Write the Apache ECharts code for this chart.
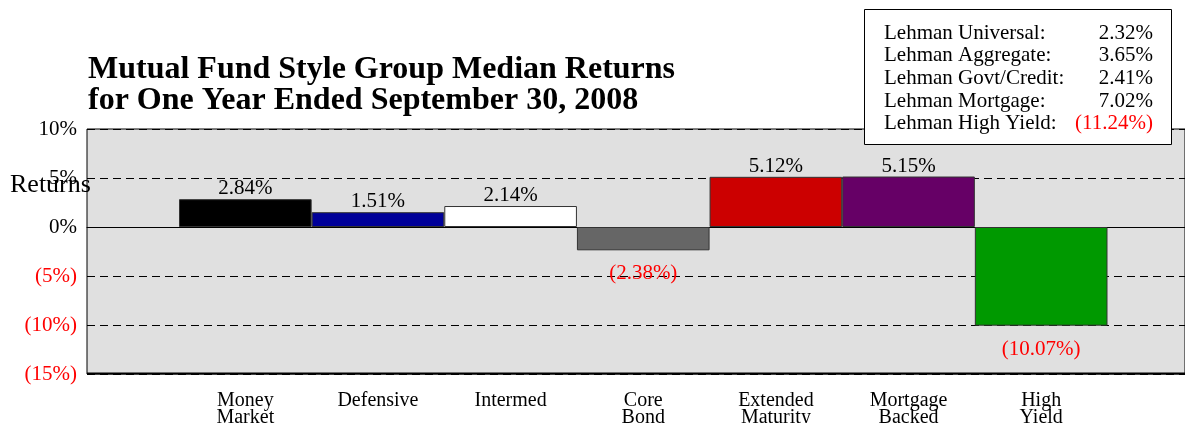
<!DOCTYPE html>
<html>
<head>
<meta charset="utf-8">
<script src="https://cdn.jsdelivr.net/npm/echarts@6/dist/echarts.min.js"></script>
<style>
html,body{margin:0;padding:0;background:#fff;}
#chart{width:1185px;height:423px;}
</style>
</head>
<body>
<div id="chart"></div>
<script>
// ---- data ----
var categories = ['Money\nMarket', 'Defensive', 'Intermed', 'Core\nBond', 'Extended\nMaturity', 'Mortgage\nBacked', 'High\nYield'];
var medianReturns = [2.84, 1.51, 2.14, -2.38, 5.12, 5.15, -10.07];
var yTicks = [-15, -10, -5, 0, 5, 10];
var benchmarkNames = ['Lehman Universal:', 'Lehman Aggregate:', 'Lehman Govt/Credit:', 'Lehman Mortgage:', 'Lehman High Yield:'];
var benchmarkValues = [2.32, 3.65, 2.41, 7.02, -11.24];
var titleText = 'Mutual Fund Style Group Median Returns\nfor One Year Ended September 30, 2008';

// ---- styles ----
var barColors = ['#000000', '#000099', '#ffffff', '#666666', '#cc0000', '#660066', '#009900'];
var FONT = "'Liberation Serif', 'Times New Roman', serif";

function fmtPct(v, digits) {
  var s = Math.abs(v).toFixed(digits) + '%';
  return v < 0 ? '(' + s + ')' : s;
}

var chart = echarts.init(document.getElementById('chart'), null, {renderer: 'canvas'});

var barData = medianReturns.map(function (v, i) {
  return {
    value: v,
    itemStyle: {color: barColors[i]},
    label: v < 0
      ? {position: 'bottom', distance: 13, color: '#ff0000'}
      : {position: 'top', distance: 0, color: '#000000'}
  };
});

var graphics = [
  {
    type: 'rect', z: 100,
    shape: {x: 864.5, y: 9.5, width: 307, height: 135},
    style: {fill: '#ffffff', stroke: '#000000', lineWidth: 1}
  },
  {
    type: 'text', z: 100, x: 10, y: 185,
    style: {text: 'Returns', font: '26px ' + FONT, fill: '#000', align: 'left', verticalAlign: 'middle'}
  },
  {
    type: 'line', z: 50,
    shape: {x1: 87, y1: 373.5, x2: 1185, y2: 373.5},
    style: {stroke: '#000', lineWidth: 2}
  }
];
benchmarkNames.forEach(function (n, i) {
  var y = 33 + i * 22.7;
  graphics.push({
    type: 'text', z: 101, x: 884, y: y,
    style: {text: n, font: '21px ' + FONT, fill: '#000', align: 'left', verticalAlign: 'middle'}
  });
  graphics.push({
    type: 'text', z: 101, x: 1153, y: y,
    style: {text: fmtPct(benchmarkValues[i], 2), font: '21px ' + FONT,
            fill: benchmarkValues[i] < 0 ? '#ff0000' : '#000', align: 'right', verticalAlign: 'middle'}
  });
});

var option = {
  animation: false,
  backgroundColor: '#ffffff',
  title: {
    text: titleText,
    left: 83, top: 49,
    textStyle: {fontFamily: FONT, fontSize: 32, fontWeight: 'bold', color: '#000', lineHeight: 31}
  },
  grid: [
    {left: 87, top: 129, right: 0, height: 245, show: true, backgroundColor: '#e0e0e0', borderColor: '#000', borderWidth: 1, z: 0,
     containLabel: false, outerBoundsMode: 'none'},
    {left: 179, top: 129, width: 928.5, height: 245, containLabel: false, outerBoundsMode: 'none'}
  ],
  xAxis: [
    {
      gridIndex: 0, type: 'value', min: 0, max: 1,
      axisLine: {show: true, onZero: true, lineStyle: {color: '#000', width: 1}},
      axisTick: {show: false}, axisLabel: {show: false}, splitLine: {show: false}
    },
    {
      gridIndex: 1, type: 'category', data: categories,
      axisLine: {show: false}, axisTick: {show: false},
      axisLabel: {margin: 18, fontFamily: FONT, fontSize: 20, lineHeight: 17, color: '#000', interval: 0}
    }
  ],
  yAxis: [
    {
      gridIndex: 0, type: 'value', min: yTicks[0], max: yTicks[yTicks.length - 1], interval: 5,
      axisLine: {show: false}, axisTick: {show: false},
      axisLabel: {
        margin: 10, fontFamily: FONT, fontSize: 21,
        formatter: function (v) { return fmtPct(v, 0); },
        color: function (v) { return Number(v) < 0 ? '#ff0000' : '#000000'; }
      },
      splitLine: {show: true, lineStyle: {color: '#000', width: 1, type: [8, 5]}}
    },
    {
      gridIndex: 1, type: 'value', min: yTicks[0], max: yTicks[yTicks.length - 1], interval: 5,
      show: false, splitLine: {show: false}
    }
  ],
  series: [
    {
      type: 'bar', xAxisIndex: 1, yAxisIndex: 1,
      barWidth: '100%', barGap: '0%', barCategoryGap: '0%',
      data: barData,
      z: 5,
      itemStyle: {borderColor: '#333333', borderWidth: 1},
      label: {
        show: true, fontFamily: FONT, fontSize: 21,
        formatter: function (p) { return fmtPct(p.value, 2); }
      }
    }
  ],
  graphic: graphics
};
chart.setOption(option);
</script>
</body>
</html>
